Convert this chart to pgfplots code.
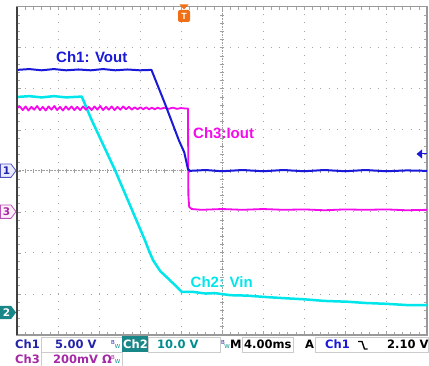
\documentclass[border=0pt]{standalone}
\usepackage{pgfplots}
\pgfplotsset{compat=1.18}
\usepackage{fontspec}
\setmainfont{Liberation Sans}
\setsansfont{Liberation Sans}
\newfontfamily\dvs{DejaVu Sans}
\definecolor{cOne}{RGB}{25,25,215}
\definecolor{cTwo}{RGB}{0,230,235}
\definecolor{cThree}{RGB}{245,10,235}
\definecolor{lblOne}{RGB}{35,35,170}
\definecolor{lblTwo}{RGB}{0,140,140}
\definecolor{lblThree}{RGB}{165,40,165}
\definecolor{tealbox}{RGB}{25,135,135}
\definecolor{trigor}{RGB}{240,110,20}
\begin{document}
\begin{tikzpicture}
\path[use as bounding box] (-17pt,-31pt) rectangle (412pt,335pt);
% background decorations (pixel coordinates)
\begin{scope}[x=1pt,y=-1pt,shift={(-17pt,335pt)}]
\draw[gray!75, line width=0.6pt, dash pattern=on 0.6pt off 1.0pt] (17,170.7) -- (427,170.7);
\draw[gray!75, line width=0.6pt, dash pattern=on 0.6pt off 1.0pt] (222,6.7) -- (222,335);
\foreach \i in {1,...,49} {\draw[gray!75, line width=0.6pt] ({17+8.2*\i},168.6) -- ({17+8.2*\i},172.8);}
\foreach \j in {1,...,39} {\draw[gray!75, line width=0.6pt] (219.9,{6.7+8.2*\j}) -- (224.1,{6.7+8.2*\j});}
\end{scope}
\begin{axis}[at={(0,0)}, anchor=south west, scale only axis,
  width=410pt, height=328.3pt,
  xmin=0, xmax=10, ymin=-4, ymax=4,
  xtick={0,...,10}, ytick={-4,...,4},
  minor x tick num=4, minor y tick num=4,
  xticklabels={}, yticklabels={},
  tick align=inside, major tick length=3.5pt, minor tick length=3pt,
  tick style={gray!70, line width=0.6pt},
  axis line style={gray!80, line width=1.4pt},
  grid=major,
  major grid style={gray!70, line width=0.9pt, dash pattern=on 0.9pt off 7.3pt},
  clip=false]
% Ch2 Vin (cyan)
\addplot[cTwo, line width=2.5pt, line join=round] coordinates {
(0,1.80) (0.3,1.82) (0.6,1.79) (0.9,1.82) (1.2,1.79) (1.58,1.81)
(1.82,1.24) (2.39,0.02) (3.12,-1.69) (3.20,-1.90) (3.32,-2.18) (3.50,-2.45) (3.65,-2.59) (3.90,-2.83) (4.02,-2.95)
(4.3,-2.95) (4.6,-2.99) (4.83,-2.98) (5.2,-3.03) (5.6,-3.04) (6.0,-3.07) (6.46,-3.10) (7.0,-3.13) (7.5,-3.17) (8.07,-3.19) (8.5,-3.22) (9.0,-3.24) (9.5,-3.27) (10,-3.27)
};
% Ch3 Iout (magenta)
\addplot[cThree, line width=1.8pt, line join=round] coordinates {
(0.00,1.53) (0.07,1.57) (0.14,1.48) (0.21,1.57) (0.28,1.47) (0.35,1.56) (0.42,1.49) (0.49,1.58)
(0.56,1.48) (0.63,1.56) (0.70,1.47) (0.77,1.57) (0.84,1.49) (0.91,1.58) (0.98,1.48) (1.05,1.56)
(1.12,1.47) (1.19,1.57) (1.26,1.49) (1.33,1.57) (1.40,1.48) (1.47,1.56) (1.54,1.48) (1.61,1.57)
(1.68,1.49) (1.75,1.56) (1.82,1.48) (1.89,1.57) (1.96,1.49) (2.03,1.58) (2.10,1.48) (2.17,1.56)
(2.24,1.49) (2.31,1.57) (2.38,1.48) (2.45,1.56) (2.52,1.49) (2.59,1.57) (2.66,1.50) (2.73,1.56)
(2.80,1.49) (2.87,1.55) (2.94,1.50) (3.01,1.55) (3.08,1.50) (3.15,1.55) (3.22,1.50) (3.29,1.54)
(3.36,1.50) (3.43,1.54) (3.50,1.51) (3.60,1.54) (3.70,1.51) (3.80,1.54) (3.90,1.51) (4.00,1.53)
(4.10,1.52) (4.17,1.52) (4.18,-0.60) (4.20,-0.88) (4.26,-0.93)
(4.5,-0.95) (5.0,-0.93) (5.5,-0.95) (6.0,-0.93) (6.5,-0.95) (7.0,-0.94) (7.5,-0.96) (8.0,-0.94) (8.5,-0.95) (9.0,-0.94) (9.5,-0.96) (10,-0.95)
};
% Ch1 Vout (blue)
\addplot[cOne, line width=2pt, line join=round] coordinates {
(0,2.46) (0.3,2.48) (0.6,2.45) (0.9,2.48) (1.2,2.45) (1.5,2.47) (1.8,2.45) (2.1,2.48) (2.4,2.45) (2.7,2.47) (3.0,2.45) (3.28,2.46)
(3.60,1.66) (3.95,0.74) (4.08,0.45) (4.17,0.04) (4.22,0.0)
(4.6,0.02) (5.0,-0.01) (5.5,0.02) (6.0,-0.01) (6.5,0.02) (7.0,-0.01) (7.5,0.02) (8.0,-0.01) (8.5,0.02) (9.0,-0.01) (9.5,0.01) (10,0.0)
};
\end{axis}
\begin{scope}[x=1pt,y=-1pt,shift={(-17pt,335pt)}]
\draw[gray!50!black, line width=2pt] (17,6.7) -- (17,335);
% trace labels
\node[anchor=base west, inner sep=0, text=cOne, font=\fontsize{15}{15}\selectfont\bfseries] at (56,62.4) {Ch1: Vout};
\node[anchor=base west, inner sep=0, text=cThree, font=\fontsize{15}{15}\selectfont\bfseries] at (193,138.4) {Ch3:Iout};
\node[anchor=base west, inner sep=0, text=cTwo, font=\fontsize{15}{15}\selectfont\bfseries] at (190.5,287.1) {Ch2: Vin};
% channel ground markers
\draw[fill=blue!8, draw=lblOne!80, line width=0.8pt] (0.5,164) -- (11,164) -- (16,170.7) -- (11,177.4) -- (0.5,177.4) -- cycle;
\node[text=lblOne, font=\dvs\fontsize{10.5}{11}\selectfont\bfseries, inner sep=0] at (6.5,170.7) {1};
\draw[fill=magenta!6, draw=lblThree!80, line width=0.8pt] (0.5,205) -- (11,205) -- (16,211.7) -- (11,218.4) -- (0.5,218.4) -- cycle;
\node[text=lblThree, font=\dvs\fontsize{10.5}{11}\selectfont\bfseries, inner sep=0] at (6.5,211.7) {3};
\fill[tealbox] (0,305.8) -- (11,305.8) -- (16,312.5) -- (11,319.2) -- (0,319.2) -- cycle;
\node[text=white, font=\dvs\fontsize{10.5}{11}\selectfont\bfseries, inner sep=0] at (6.5,312.5) {2};
% trigger position marker
\fill[trigor] (179.5,4.5) -- (188.5,4.5) -- (184,9.5) -- cycle;
\fill[trigor, rounded corners=2pt] (178,10) rectangle (190,22);
\node[text=white, font=\fontsize{9}{9}\selectfont\bfseries, inner sep=0] at (184,16) {T};
% trigger level marker
\fill[cOne] (416.5,154) -- (422,149.5) -- (422,158.5) -- cycle;
\draw[cOne, line width=1pt] (421,154) -- (427,154);
% status bar
\draw[gray!40, line width=0.8pt] (41,337) rectangle (122,352);
\draw[gray!40, line width=0.8pt] (41,352) rectangle (122,366);
\draw[gray!40, line width=0.8pt] (148,337) rectangle (220,352);
\draw[gray!40, line width=0.8pt] (242,337) rectangle (293,352);
\draw[gray!40, line width=0.8pt] (315,337) rectangle (428.5,352);
\fill[tealbox] (122,336.5) rectangle (148,352);
\begin{scope}[every node/.style={anchor=base west, inner sep=0, font=\dvs\bfseries\fontsize{11.5}{14}\selectfont}]
\node[text=lblOne] at (15,348.5) {Ch1};
\node[text=lblOne] at (55,348.5) {5.00 V};
\node[text=white] at (123,348.5) {Ch2};
\node[text=lblTwo] at (157,348.5) {10.0 V};
\node[text=black] at (230,348.5) {M};
\node[text=black] at (244,348.5) {4.00ms};
\node[text=black] at (305,348.5) {A};
\node[text=cOne] at (325,348.5) {Ch1};
\node[text=black] at (387,348.5) {2.10 V};
\node[text=lblThree] at (15,363.5) {Ch3};
\node[text=lblThree] at (53,363.5) {200mV Ω};
\end{scope}
\draw[black, line width=1.3pt] (358,341.5) -- (362,341.5) -- (364.5,349) -- (367.5,349);
\begin{scope}[every node/.style={inner sep=0, font=\dvs\fontsize{5.5}{5.5}\selectfont}]
\node[text=lblOne] at (113,342.5) {B}; \node[text=lblTwo] at (117.5,346.5) {W};
\node[text=lblOne] at (223,342.5) {B}; \node[text=lblTwo] at (227,346.5) {W};
\node[text=lblThree] at (113,357.5) {B}; \node[text=lblTwo] at (117.5,361.5) {W};
\end{scope}
\end{scope}
\end{tikzpicture}
\end{document}
